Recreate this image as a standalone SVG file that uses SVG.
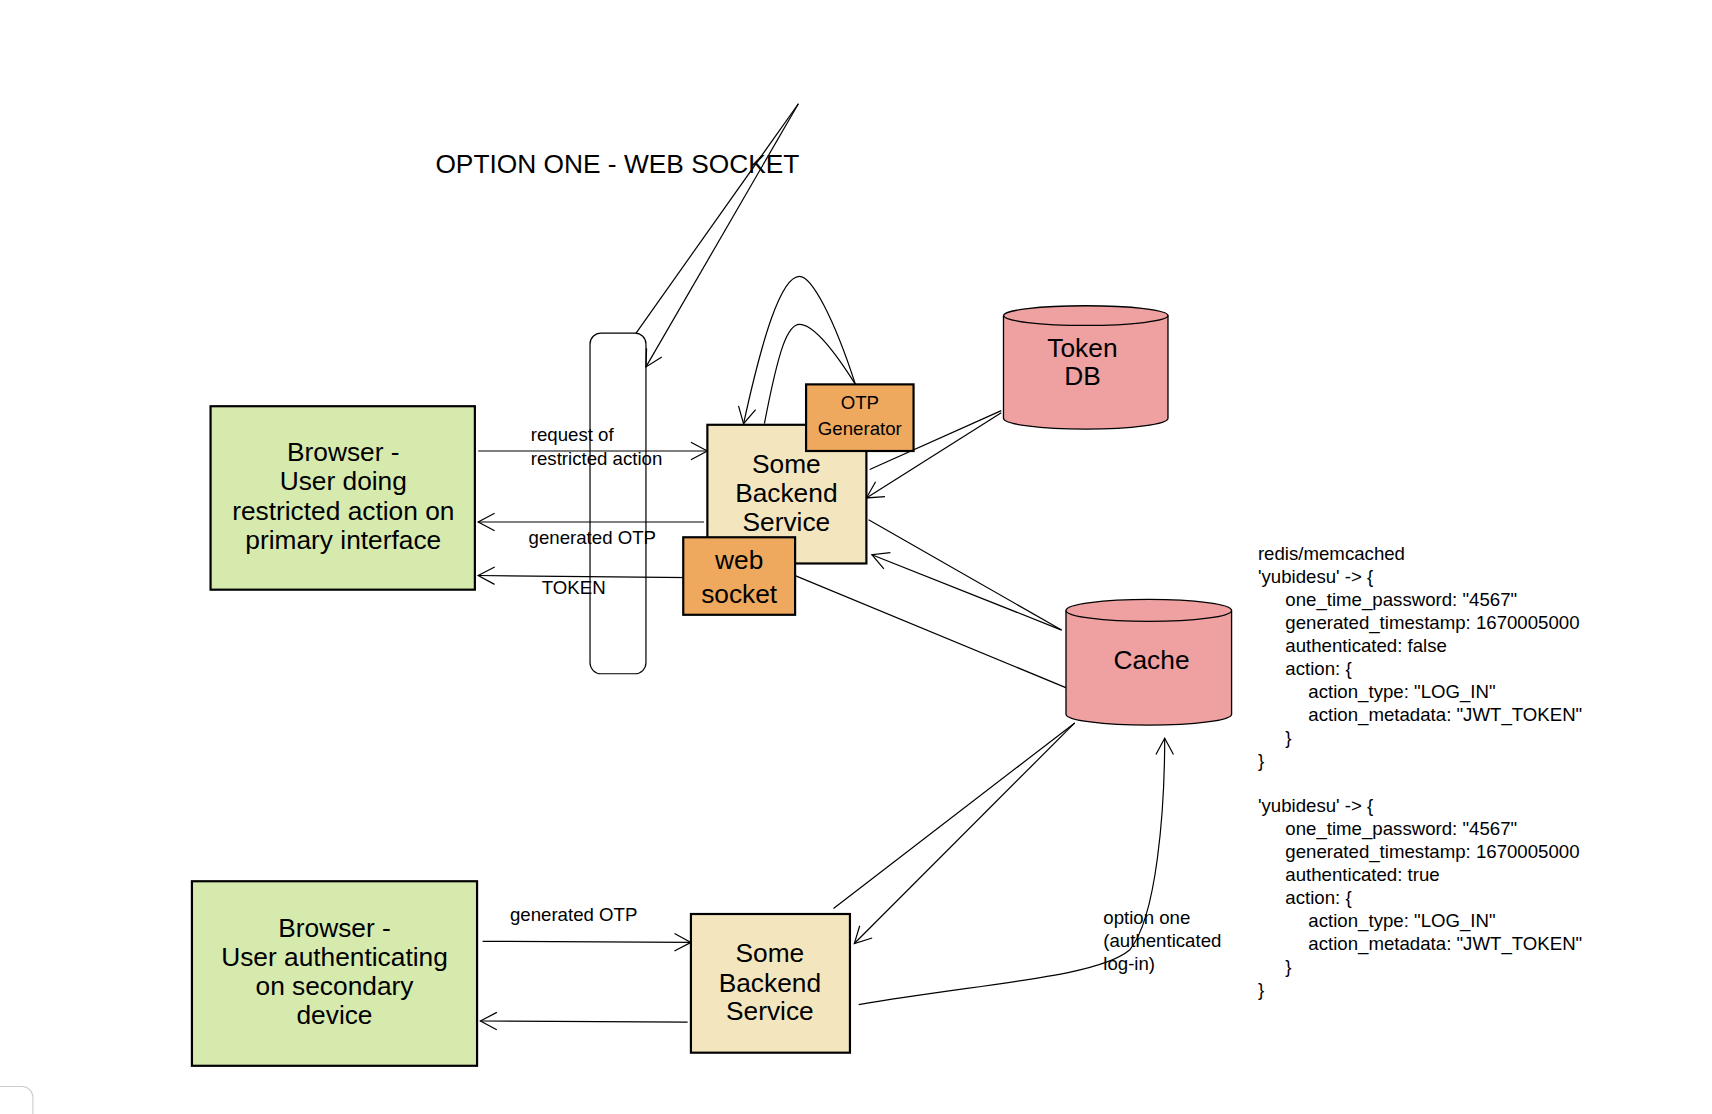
<svg xmlns="http://www.w3.org/2000/svg" width="1712" height="1114" viewBox="0 0 1712 1114">
<style>
text{font-family:"Liberation Sans",Arial,sans-serif;fill:#000}
.big{font-size:24px;text-anchor:middle}
.sm{font-size:17px}
.box{stroke:#000;stroke-width:2}
.green{fill:#d6eaae}
.beige{fill:#f3e6bf}
.orange{fill:#eea95e}
.pink{fill:#eea1a0;stroke:#000;stroke-width:1.2}
.c{fill:none;stroke:#000;stroke-width:1.1}
</style>
<defs>
<marker id="a" viewBox="-17 -10 19 20" refX="0" refY="0" markerWidth="19" markerHeight="20" markerUnits="userSpaceOnUse" orient="auto">
<path d="M-15,-8 L0,0 L-15,8" fill="none" stroke="#000" stroke-width="1.1"/>
</marker>
</defs>
<rect width="1712" height="1114" fill="#fff"/>
<g transform="scale(1.0967 1.092)">
<text x="397" y="158" font-size="24" id="title">OPTION ONE - WEB SOCKET</text>
<g id="lane"><rect x="538" y="305" width="51" height="312" rx="10" fill="none" stroke="#000" stroke-width="1.1"/></g>

<g id="connectors">
<path class="c" d="M728,95 L580,305"/>
<path class="c" d="M728,95 L589,336" marker-end="url(#a)"/>
<path class="c" d="M436,413 L645,413" marker-end="url(#a)"/>
<path class="c" d="M642,478 L436,478" marker-end="url(#a)"/>
<path class="c" d="M630,529 L436,527" marker-end="url(#a)"/>
<path class="c" d="M780,352 C760,290 740,253 729,253 C712,253 695,310 678,388" marker-end="url(#a)"/>
<path class="c" d="M697,388 C710,320 718,297 729,297 C742,297 760,320 780,352"/>
<path class="c" d="M793,430 L913,376"/>
<path class="c" d="M913,378 L790,456" marker-end="url(#a)"/>
<path class="c" d="M792,476 L968,577"/>
<path class="c" d="M968,577 L795,508" marker-end="url(#a)"/>
<path class="c" d="M1028,653 L703,518" marker-end="url(#a)"/>
<path class="c" d="M760,832 L980,662"/>
<path class="c" d="M980,662 L779,864" marker-end="url(#a)"/>
<path class="c" d="M783,920 C900,900 1000,895 1030,870 C1055,840 1062,740 1062,676" marker-end="url(#a)"/>
<path class="c" d="M440,862 L630,863" marker-end="url(#a)"/>
<path class="c" d="M627,936 L438,935" marker-end="url(#a)"/>
<text class="sm" x="484" y="404">request of</text>
<text class="sm" x="484" y="426">restricted action</text>
<text class="sm" x="482" y="498">generated OTP</text>
<text class="sm" x="494" y="544">TOKEN</text>
<text class="sm" x="465" y="843">generated OTP</text>
<text class="sm" x="1006" y="846">option one</text>
<text class="sm" x="1006" y="867">(authenticated</text>
<text class="sm" x="1006" y="888">log-in)</text>
</g>

<g id="browser1"><rect class="box green" x="192" y="372" width="241" height="168"/>
<text class="big" x="313" y="422">Browser -</text><text class="big" x="313" y="449">User doing</text><text class="big" x="313" y="476">restricted action on</text><text class="big" x="313" y="503">primary interface</text></g>

<g id="backend1"><rect class="box beige" x="645" y="389" width="145" height="127"/>
<text class="big" x="717" y="433">Some</text><text class="big" x="717" y="460">Backend</text><text class="big" x="717" y="486">Service</text></g>

<g id="otp"><rect class="box orange" x="735" y="352" width="98" height="61"/>
<text class="sm" x="784" y="375" text-anchor="middle">OTP</text><text class="sm" x="784" y="398" text-anchor="middle">Generator</text></g>

<g id="websocket"><rect class="box orange" x="623" y="492" width="102" height="71"/>
<text class="big" x="674" y="521">web</text><text class="big" x="674" y="552">socket</text></g>

<g id="tokendb"><path class="pink" d="M915,289 L915,383 A75,10 0 0 0 1065,383 L1065,289 A75,9 0 0 0 915,289 Z"/>
<path d="M915,289 A75,9 0 0 0 1065,289" fill="none" stroke="#000" stroke-width="1.2"/>
<text class="big" x="987" y="327">Token</text><text class="big" x="987" y="353">DB</text></g>

<g id="cache"><path class="pink" d="M972,559 L972,654 A75,10 0 0 0 1123,654 L1123,559 A75,10 0 0 0 972,559 Z"/>
<path d="M972,559 A75,10 0 0 0 1123,559" fill="none" stroke="#000" stroke-width="1.2"/>
<text class="big" x="1050" y="613">Cache</text></g>

<g id="browser2"><rect class="box green" x="175" y="807" width="260" height="169"/>
<text class="big" x="305" y="858">Browser -</text><text class="big" x="305" y="885">User authenticating</text><text class="big" x="305" y="911">on secondary</text><text class="big" x="305" y="938">device</text></g>

<g id="backend2"><rect class="box beige" x="630" y="837" width="145" height="127"/>
<text class="big" x="702" y="881">Some</text><text class="big" x="702" y="908">Backend</text><text class="big" x="702" y="934">Service</text></g>

<g id="cachetext" class="sm">
<text class="sm" x="1147" y="513">redis/memcached</text>
<text class="sm" x="1147" y="534">'yubidesu' -&gt; {</text>
<text class="sm" x="1172" y="555">one_time_password: "4567"</text>
<text class="sm" x="1172" y="576">generated_timestamp: 1670005000</text>
<text class="sm" x="1172" y="597">authenticated: false</text>
<text class="sm" x="1172" y="618">action: {</text>
<text class="sm" x="1193" y="639">action_type: "LOG_IN"</text>
<text class="sm" x="1193" y="660">action_metadata: "JWT_TOKEN"</text>
<text class="sm" x="1172" y="681">}</text>
<text class="sm" x="1147" y="702">}</text>
<text class="sm" x="1147" y="744">'yubidesu' -&gt; {</text>
<text class="sm" x="1172" y="765">one_time_password: "4567"</text>
<text class="sm" x="1172" y="786">generated_timestamp: 1670005000</text>
<text class="sm" x="1172" y="807">authenticated: true</text>
<text class="sm" x="1172" y="828">action: {</text>
<text class="sm" x="1193" y="849">action_type: "LOG_IN"</text>
<text class="sm" x="1193" y="870">action_metadata: "JWT_TOKEN"</text>
<text class="sm" x="1172" y="891">}</text>
<text class="sm" x="1147" y="912">}</text>
</g>
<path d="M0,995 L20,995 A10,10 0 0 1 30,1005 L30,1025" fill="none" stroke="#ccc" stroke-width="1"/>
</g>
</svg>
